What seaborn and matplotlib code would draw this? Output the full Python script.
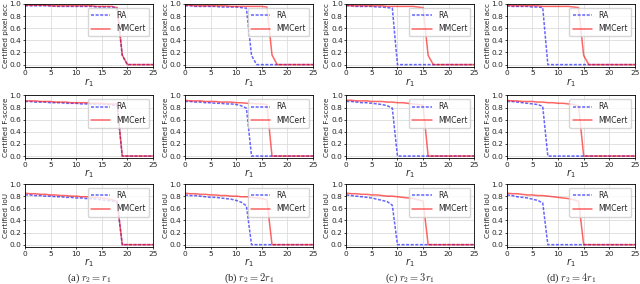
import numpy as np
import pandas as pd
import matplotlib
matplotlib.use("Agg")
import matplotlib.pyplot as plt
import seaborn as sns

# data
r1 = list(range(26))

# certified pixel accuracy
pix_ra_a = [0.97, 0.97, 0.97, 0.97, 0.97, 0.97, 0.96, 0.96, 0.96, 0.96, 0.96, 0.96, 0.96, 0.96, 0.95, 0.95, 0.95, 0.95, 0.93, 0.15, 0.0, 0.0, 0.0, 0.0, 0.0, 0.0]
pix_mm_a = [0.98, 0.98, 0.98, 0.98, 0.98, 0.97, 0.97, 0.97, 0.97, 0.97, 0.97, 0.97, 0.97, 0.97, 0.96, 0.96, 0.96, 0.96, 0.94, 0.16, 0.0, 0.0, 0.0, 0.0, 0.0, 0.0]
pix_ra_b = [0.97, 0.97, 0.96, 0.96, 0.96, 0.96, 0.96, 0.95, 0.95, 0.95, 0.95, 0.94, 0.93, 0.15, 0.0, 0.0, 0.0, 0.0, 0.0, 0.0, 0.0, 0.0, 0.0, 0.0, 0.0, 0.0]
pix_mm_b = [0.98, 0.98, 0.97, 0.97, 0.97, 0.97, 0.97, 0.97, 0.97, 0.96, 0.96, 0.96, 0.96, 0.96, 0.96, 0.96, 0.95, 0.16, 0.0, 0.0, 0.0, 0.0, 0.0, 0.0, 0.0, 0.0]
pix_ra_c = [0.97, 0.97, 0.96, 0.96, 0.96, 0.96, 0.95, 0.95, 0.94, 0.93, 0.0, 0.0, 0.0, 0.0, 0.0, 0.0, 0.0, 0.0, 0.0, 0.0, 0.0, 0.0, 0.0, 0.0, 0.0, 0.0]
pix_mm_c = [0.98, 0.97, 0.97, 0.97, 0.97, 0.97, 0.97, 0.97, 0.96, 0.96, 0.96, 0.96, 0.96, 0.96, 0.95, 0.94, 0.15, 0.0, 0.0, 0.0, 0.0, 0.0, 0.0, 0.0, 0.0, 0.0]
pix_ra_d = [0.97, 0.96, 0.96, 0.96, 0.96, 0.95, 0.95, 0.94, 0.0, 0.0, 0.0, 0.0, 0.0, 0.0, 0.0, 0.0, 0.0, 0.0, 0.0, 0.0, 0.0, 0.0, 0.0, 0.0, 0.0, 0.0]
pix_mm_d = [0.98, 0.97, 0.97, 0.97, 0.97, 0.97, 0.97, 0.96, 0.96, 0.96, 0.96, 0.96, 0.96, 0.95, 0.94, 0.15, 0.0, 0.0, 0.0, 0.0, 0.0, 0.0, 0.0, 0.0, 0.0, 0.0]

# certified F-score
f_ra_a = [0.90, 0.90, 0.89, 0.89, 0.89, 0.88, 0.88, 0.88, 0.87, 0.87, 0.87, 0.86, 0.86, 0.86, 0.85, 0.85, 0.85, 0.84, 0.84, 0.0, 0.0, 0.0, 0.0, 0.0, 0.0, 0.0]
f_mm_a = [0.91, 0.91, 0.91, 0.90, 0.90, 0.90, 0.89, 0.89, 0.89, 0.88, 0.88, 0.88, 0.88, 0.87, 0.87, 0.87, 0.86, 0.86, 0.86, 0.0, 0.0, 0.0, 0.0, 0.0, 0.0, 0.0]
f_ra_b = [0.90, 0.90, 0.89, 0.89, 0.88, 0.88, 0.87, 0.87, 0.86, 0.86, 0.85, 0.83, 0.79, 0.0, 0.0, 0.0, 0.0, 0.0, 0.0, 0.0, 0.0, 0.0, 0.0, 0.0, 0.0, 0.0]
f_mm_b = [0.92, 0.91, 0.91, 0.91, 0.90, 0.90, 0.90, 0.89, 0.89, 0.89, 0.88, 0.88, 0.87, 0.87, 0.86, 0.86, 0.85, 0.0, 0.0, 0.0, 0.0, 0.0, 0.0, 0.0, 0.0, 0.0]
f_ra_c = [0.90, 0.90, 0.89, 0.88, 0.88, 0.87, 0.86, 0.85, 0.83, 0.79, 0.0, 0.0, 0.0, 0.0, 0.0, 0.0, 0.0, 0.0, 0.0, 0.0, 0.0, 0.0, 0.0, 0.0, 0.0, 0.0]
f_mm_c = [0.92, 0.92, 0.91, 0.91, 0.91, 0.90, 0.90, 0.90, 0.89, 0.89, 0.88, 0.88, 0.87, 0.86, 0.85, 0.84, 0.0, 0.0, 0.0, 0.0, 0.0, 0.0, 0.0, 0.0, 0.0, 0.0]
f_ra_d = [0.90, 0.90, 0.89, 0.88, 0.87, 0.86, 0.85, 0.82, 0.0, 0.0, 0.0, 0.0, 0.0, 0.0, 0.0, 0.0, 0.0, 0.0, 0.0, 0.0, 0.0, 0.0, 0.0, 0.0, 0.0, 0.0]
f_mm_d = [0.92, 0.91, 0.91, 0.90, 0.90, 0.90, 0.89, 0.89, 0.88, 0.88, 0.87, 0.87, 0.86, 0.85, 0.83, 0.0, 0.0, 0.0, 0.0, 0.0, 0.0, 0.0, 0.0, 0.0, 0.0, 0.0]

# certified IoU
iou_ra_a = [0.82, 0.82, 0.81, 0.81, 0.80, 0.80, 0.79, 0.79, 0.78, 0.78, 0.77, 0.77, 0.76, 0.76, 0.75, 0.74, 0.73, 0.72, 0.70, 0.0, 0.0, 0.0, 0.0, 0.0, 0.0, 0.0]
iou_mm_a = [0.85, 0.84, 0.84, 0.83, 0.83, 0.82, 0.82, 0.81, 0.81, 0.80, 0.80, 0.79, 0.79, 0.78, 0.78, 0.77, 0.76, 0.74, 0.72, 0.0, 0.0, 0.0, 0.0, 0.0, 0.0, 0.0]
iou_ra_b = [0.82, 0.81, 0.81, 0.80, 0.79, 0.78, 0.78, 0.77, 0.76, 0.75, 0.73, 0.70, 0.64, 0.0, 0.0, 0.0, 0.0, 0.0, 0.0, 0.0, 0.0, 0.0, 0.0, 0.0, 0.0, 0.0]
iou_mm_b = [0.85, 0.84, 0.84, 0.83, 0.83, 0.82, 0.82, 0.81, 0.81, 0.80, 0.80, 0.79, 0.79, 0.78, 0.77, 0.76, 0.74, 0.0, 0.0, 0.0, 0.0, 0.0, 0.0, 0.0, 0.0, 0.0]
iou_ra_c = [0.82, 0.81, 0.80, 0.79, 0.78, 0.77, 0.75, 0.73, 0.71, 0.65, 0.0, 0.0, 0.0, 0.0, 0.0, 0.0, 0.0, 0.0, 0.0, 0.0, 0.0, 0.0, 0.0, 0.0, 0.0, 0.0]
iou_mm_c = [0.85, 0.84, 0.84, 0.83, 0.83, 0.82, 0.82, 0.81, 0.80, 0.80, 0.79, 0.78, 0.77, 0.76, 0.74, 0.72, 0.0, 0.0, 0.0, 0.0, 0.0, 0.0, 0.0, 0.0, 0.0, 0.0]
iou_ra_d = [0.82, 0.81, 0.79, 0.78, 0.77, 0.75, 0.73, 0.69, 0.0, 0.0, 0.0, 0.0, 0.0, 0.0, 0.0, 0.0, 0.0, 0.0, 0.0, 0.0, 0.0, 0.0, 0.0, 0.0, 0.0, 0.0]
iou_mm_d = [0.85, 0.84, 0.84, 0.83, 0.82, 0.82, 0.81, 0.81, 0.80, 0.79, 0.78, 0.77, 0.76, 0.74, 0.72, 0.0, 0.0, 0.0, 0.0, 0.0, 0.0, 0.0, 0.0, 0.0, 0.0, 0.0]

row_labels = ["Certified pixel acc", "Certified F-score", "Certified IoU"]
captions = ["(a) $r_2 = r_1$", "(b) $r_2 = 2r_1$", "(c) $r_2 = 3r_1$", "(d) $r_2 = 4r_1$"]

grid = [
    [(pix_ra_a, pix_mm_a), (pix_ra_b, pix_mm_b), (pix_ra_c, pix_mm_c), (pix_ra_d, pix_mm_d)],
    [(f_ra_a, f_mm_a), (f_ra_b, f_mm_b), (f_ra_c, f_mm_c), (f_ra_d, f_mm_d)],
    [(iou_ra_a, iou_mm_a), (iou_ra_b, iou_mm_b), (iou_ra_c, iou_mm_c), (iou_ra_d, iou_mm_d)],
]

sns.set_theme(style="whitegrid", rc={
    "axes.edgecolor": "black",
    "axes.linewidth": 0.6,
    "grid.color": "#dddddd",
    "grid.linewidth": 0.6,
    "xtick.bottom": True,
    "ytick.left": True,
    "xtick.major.size": 1.5,
    "ytick.major.size": 1.5,
    "xtick.major.width": 0.6,
    "ytick.major.width": 0.6,
    "xtick.major.pad": 1,
    "ytick.major.pad": 1,
})
plt.rcParams["font.family"] = ["DejaVu Sans"]
plt.rcParams["mathtext.fontset"] = "dejavusans"

fig = plt.figure(figsize=(6.4, 2.84), dpi=100)

lefts = [0.039, 0.289, 0.541, 0.792]
bottoms = [0.764, 0.442, 0.13]
w, h = 0.200, 0.222

palette = {"RA": "blue", "MMCert": "red"}

for i in range(3):
    for j in range(4):
        ra, mm = grid[i][j]
        df = pd.DataFrame({
            "r1": r1 + r1,
            "value": ra + mm,
            "method": ["RA"] * len(r1) + ["MMCert"] * len(r1),
        })
        ax = fig.add_axes([lefts[j], bottoms[i], w, h])
        sns.lineplot(data=df, x="r1", y="value", hue="method", style="method",
                     palette=palette, dashes={"RA": (2, 1), "MMCert": ""},
                     alpha=0.6, linewidth=1.1, ax=ax)
        ax.set_xlim(0, 25)
        ax.set_ylim(-0.04, 1.0)
        ax.set_xticks([0, 5, 10, 15, 20, 25])
        ax.set_yticks([0.0, 0.2, 0.4, 0.6, 0.8, 1.0])
        ax.tick_params(labelsize=5.3)
        ax.set_xlabel("$r_1$", fontsize=7, labelpad=-0.5)
        ax.set_ylabel(row_labels[i], fontsize=5.2, labelpad=0.5)
        ax.legend(loc="upper right", fontsize=5.5, handlelength=2.6,
                  borderpad=0.4, labelspacing=0.6, framealpha=0.8,
                  edgecolor="#cccccc", fancybox=True)

for j in range(4):
    fig.text(lefts[j] + w / 2, 0.022, captions[j], ha="center", va="center",
             fontsize=7.5, family="Liberation Serif", math_fontfamily="cm")

fig.savefig("out.png", dpi=100)
